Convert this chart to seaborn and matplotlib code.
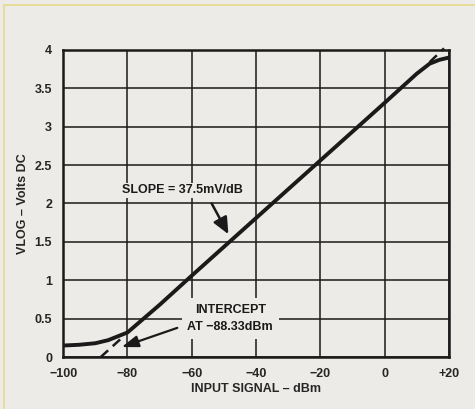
import matplotlib

matplotlib.use("Agg")
import matplotlib.pyplot as plt
import pandas as pd
import seaborn as sns
from matplotlib.patches import Rectangle

input_dbm = [-100, -95, -90, -86, -83, -80, -75, -70, -60, -40, -20, 0, 10, 14, 17, 20]
vlog_volts = [0.15, 0.16, 0.18, 0.22, 0.27, 0.32, 0.50, 0.68, 1.06, 1.81, 2.56, 3.31, 3.69, 3.82, 3.87, 3.90]

# dashed ideal-line extensions (slope 37.5 mV/dB through -88.33 dBm)
ext_low_x = [-88.33, -82.0]
ext_low_y = [0.0, 0.24]
ext_high_x = [14.0, 18.5]
ext_high_y = [3.84, 4.02]

x_ticks = [-100, -80, -60, -40, -20, 0, 20]
x_tick_labels = ["\u2212100", "\u221280", "\u221260", "\u221240", "\u221220", "0", "+20"]
y_ticks = [0, 0.5, 1, 1.5, 2, 2.5, 3, 3.5, 4]
y_tick_labels = ["0", "0.5", "1", "1.5", "2", "2.5", "3", "3.5", "4"]

bg = "#ecebe7"
ink = "#1a1a1a"

sns.set_style("white")
plt.rcParams["font.family"] = ["Liberation Sans", "DejaVu Sans"]
plt.rcParams["font.weight"] = "bold"

fig = plt.figure(figsize=(4.75, 4.09), dpi=100, facecolor=bg)
ax = fig.add_axes([0.133, 0.127, 0.812, 0.751])
ax.set_facecolor(bg)

# page edge (yellowish scan border)
fig.patches.append(Rectangle((0.008, -0.05), 1.2, 1.037, transform=fig.transFigure,
                             fill=False, edgecolor="#e6d98a", linewidth=1.2))

df = pd.DataFrame({"dbm": input_dbm, "v": vlog_volts})
sns.lineplot(data=df, x="dbm", y="v", ax=ax, color=ink, linewidth=2.8, zorder=5)
ax.plot(ext_low_x, ext_low_y, color=ink, linewidth=1.8, linestyle=(0, (4, 2.5)), zorder=5)
ax.plot(ext_high_x, ext_high_y, color=ink, linewidth=1.8, linestyle=(0, (4, 2.5)),
        zorder=5, clip_on=False)

ax.set_xlim(-100, 20)
ax.set_ylim(0, 4)
ax.set_xticks(x_ticks)
ax.set_xticklabels(x_tick_labels)
ax.set_yticks(y_ticks)
ax.set_yticklabels(y_tick_labels)
ax.grid(True, color=ink, linewidth=1.1)
ax.tick_params(length=0, pad=8, labelsize=9)
for lab in ax.get_xticklabels() + ax.get_yticklabels():
    lab.set_fontweight("bold")
for s in ax.spines.values():
    s.set_color(ink)
    s.set_linewidth(1.8)

ax.set_xlabel("INPUT SIGNAL \u2013 dBm", fontsize=9, fontweight="bold", labelpad=2)
ax.set_ylabel("VLOG \u2013 Volts DC", fontsize=9, fontweight="bold", labelpad=4)

ax.text(-63, 2.17, "SLOPE = 37.5mV/dB", ha="center", va="center",
        fontsize=9, fontweight="bold", color=ink,
        bbox=dict(boxstyle="square,pad=0.15", fc=bg, ec="none"), zorder=6)
ax.annotate("", xy=(-48.6, 1.6), xytext=(-53.8, 2.0),
            arrowprops=dict(arrowstyle="-|>,head_length=1.0,head_width=0.45",
                            color=ink, lw=1.8, shrinkA=0, shrinkB=0),
            zorder=6)

ax.text(-48, 0.5, "INTERCEPT\nAT \u221288.33dBm", ha="center", va="center",
        fontsize=9, fontweight="bold", color=ink, linespacing=1.6,
        bbox=dict(boxstyle="square,pad=0.45", fc=bg, ec="none"), zorder=6)
ax.annotate("", xy=(-81.8, 0.13), xytext=(-64.5, 0.38),
            arrowprops=dict(arrowstyle="-|>,head_length=1.0,head_width=0.35",
                            color=ink, lw=1.6, shrinkA=0, shrinkB=0),
            zorder=6)

fig.savefig("out.png", dpi=100, facecolor=bg)
